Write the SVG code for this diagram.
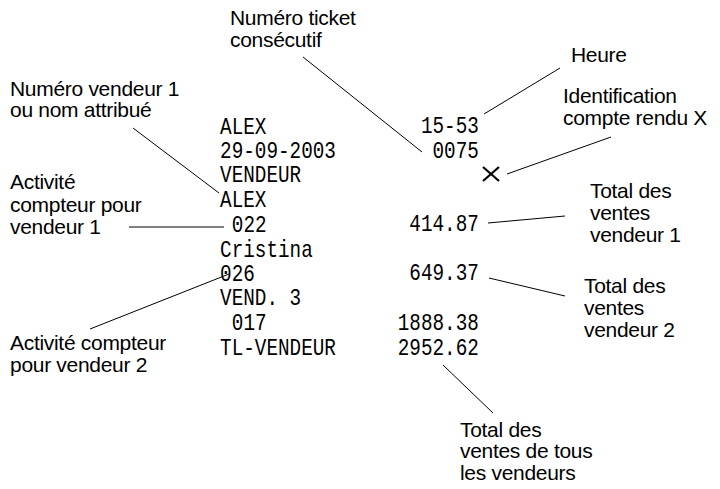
<svg xmlns="http://www.w3.org/2000/svg" width="720" height="489" viewBox="0 0 720 489">
<style>
.l{font-family:"Liberation Sans",Arial,sans-serif;font-size:21px;fill:#000;letter-spacing:-0.3px}
.r{font-family:"Liberation Mono","DejaVu Sans Mono",monospace;font-size:23px;fill:#000}
.e{text-anchor:end}
.c line{stroke:#000;stroke-width:1}
</style>
<rect width="720" height="489" fill="#fff"/>
<g id="receipt" transform="scale(0.84,1)">
<text class="r" x="262" y="134">ALEX</text>
<text class="r" x="262" y="158">29-09-2003</text>
<text class="r" x="262" y="182">VENDEUR</text>
<text class="r" x="262" y="207">ALEX</text>
<text class="r" x="276" y="232">022</text>
<text class="r" x="262" y="257">Cristina</text>
<text class="r" x="262" y="281">026</text>
<text class="r" x="262" y="305">VEND. 3</text>
<text class="r" x="276" y="330">017</text>
<text class="r" x="262" y="355">TL-VENDEUR</text>
<text class="r e" x="570" y="133">15-53</text>
<text class="r e" x="570" y="158">0075</text>
<text class="r e" x="570" y="231">414.87</text>
<text class="r e" x="570" y="280">649.37</text>
<text class="r e" x="570" y="330">1888.38</text>
<text class="r e" x="570" y="355">2952.62</text>
</g>
<g id="xmark" stroke="#000" stroke-width="2.2"><line x1="483" y1="167" x2="499" y2="181"/><line x1="499" y1="167" x2="483" y2="181"/></g>
<g id="lbl-ticket"><text class="l" x="230" y="25">Numéro ticket</text><text class="l" x="230" y="47">consécutif</text></g>
<g id="lbl-heure"><text class="l" x="571" y="62">Heure</text></g>
<g id="lbl-ident"><text class="l" x="563" y="103">Identification</text><text class="l" x="563" y="125">compte rendu X</text></g>
<g id="lbl-vend1"><text class="l" x="10" y="96">Numéro vendeur 1</text><text class="l" x="10" y="117">ou nom attribué</text></g>
<g id="lbl-act1"><text class="l" x="10" y="189">Activité</text><text class="l" x="10" y="212">compteur pour</text><text class="l" x="10" y="234">vendeur 1</text></g>
<g id="lbl-tot1"><text class="l" x="590" y="198">Total des</text><text class="l" x="590" y="220">ventes</text><text class="l" x="590" y="242">vendeur 1</text></g>
<g id="lbl-tot2"><text class="l" x="584" y="293">Total des</text><text class="l" x="584" y="315">ventes</text><text class="l" x="584" y="337">vendeur 2</text></g>
<g id="lbl-act2"><text class="l" x="10" y="350">Activité compteur</text><text class="l" x="10" y="372">pour vendeur 2</text></g>
<g id="lbl-tous"><text class="l" x="460" y="437">Total des</text><text class="l" x="460" y="458">ventes de tous</text><text class="l" x="460" y="480">les vendeurs</text></g>
<g class="c" id="connectors">
<line x1="303" y1="57" x2="422" y2="152"/>
<line x1="560" y1="68" x2="484" y2="114"/>
<line x1="611" y1="137" x2="507" y2="174"/>
<line x1="133" y1="128" x2="219" y2="193"/>
<line x1="129" y1="227" x2="224" y2="227"/>
<line x1="488" y1="223" x2="565" y2="216"/>
<line x1="489" y1="278" x2="565" y2="296"/>
<line x1="90" y1="329" x2="229" y2="274"/>
<line x1="443" y1="365" x2="493" y2="413"/>
</g>
</svg>
